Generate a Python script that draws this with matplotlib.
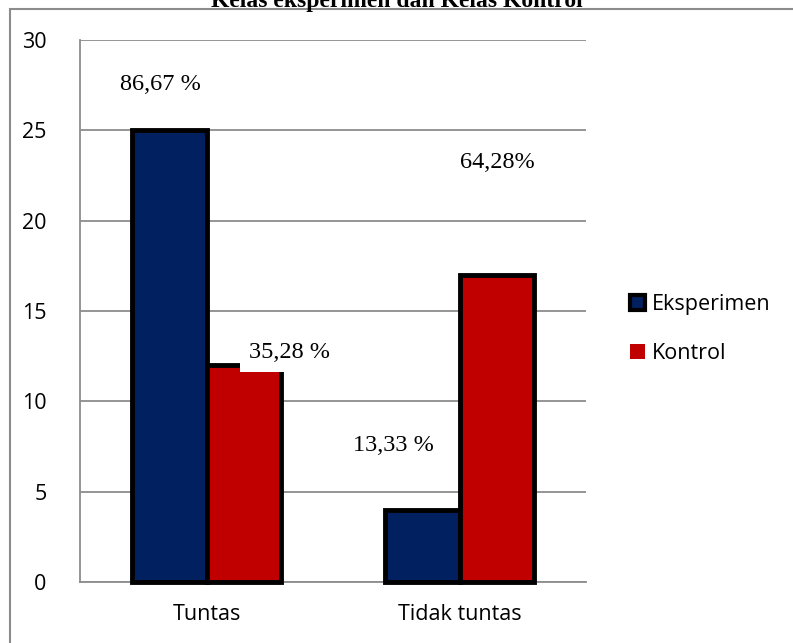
import matplotlib.pyplot as plt
import numpy as np
from matplotlib.patches import Patch, Rectangle

categories = ["Tuntas", "Tidak tuntas"]
eksperimen = [25, 4]
kontrol = [12, 17]
pct_labels = ["86,67 %", "35,28 %", "13,33 %", "64,28%"]
# label anchor points (category units, value units)
label_x = [-0.184, 0.33, 0.737, 1.148]
label_y = [27.56, 12.73, 7.58, 23.24]

BLUE = "#002060"
RED = "#C00000"
GRID = "#8c8c8c"

fig = plt.figure(figsize=(7.93, 6.43), dpi=100)
ax = fig.add_axes([80 / 793, 1 - 582 / 643, 506 / 793, 542 / 643])

x = np.arange(len(categories))
w = 0.2925
ax.bar(x - w / 2, eksperimen, w, color=BLUE, edgecolor="black", lw=3.5, zorder=3, clip_on=False)
ax.bar(x + w / 2, kontrol, w, color=RED, edgecolor="black", lw=3.5, zorder=3, clip_on=False)

for txt, lx, ly in zip(pct_labels, label_x, label_y):
    ax.text(lx, ly, txt, ha="center", va="center", fontsize=17.5,
            family="Liberation Serif", zorder=5,
            bbox=dict(facecolor="white", edgecolor="none", pad=7))

ax.set_xlim(-0.5, 1.5)
ax.set_ylim(0, 30)
ax.set_yticks(range(0, 31, 5))
ax.set_xticks(x)
ax.set_xticklabels(categories)
ax.yaxis.grid(True, color=GRID, lw=1.3, zorder=0)
ax.set_axisbelow(True)
for s in ["top", "right"]:
    ax.spines[s].set_visible(False)
for s in ["left", "bottom"]:
    ax.spines[s].set_color(GRID)
    ax.spines[s].set_linewidth(1.3)
ax.tick_params(axis="both", length=0, labelsize=15.5)
ax.tick_params(axis="y", pad=24)
ax.tick_params(axis="x", pad=16)
for lab in ax.get_xticklabels() + ax.get_yticklabels():
    lab.set_family("Open Sans")

handles = [
    Patch(facecolor=BLUE, edgecolor="black", lw=3),
    Patch(facecolor=RED, edgecolor="none"),
]
fig.legend(handles, ["Eksperimen", "Kontrol"], loc="center left",
           bbox_to_anchor=(611 / 793, 1 - 329 / 643), frameon=False,
           handlelength=0.7, handleheight=0.7, handletextpad=0.3,
           labelspacing=1.3, prop={"family": "Open Sans", "size": 15.5})

fig.text(0.5, 1 - 7 / 643, "Kelas eksperimen dan Kelas Kontrol", ha="center", va="baseline",
         fontsize=17, fontweight="bold", family="Liberation Serif")
fig.patches.append(Rectangle((10 / 793, -0.05), 1.2, 1.05 - 9 / 643, fill=False,
                             edgecolor=GRID, lw=1.5, transform=fig.transFigure))

fig.savefig("out.png", dpi=100)
